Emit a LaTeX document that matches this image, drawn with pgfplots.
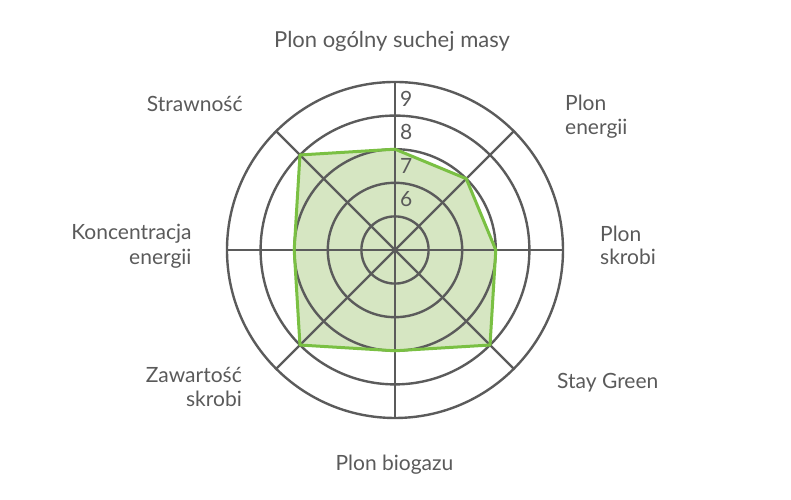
\documentclass[border=0pt]{standalone}
\usepackage{fontspec}
\setmainfont{Lato}
\usepackage{pgfplots}
\usepackage{pgfplotstable}
\pgfplotsset{compat=1.18}

\definecolor{gridgray}{HTML}{5B5B5B}
\definecolor{txtgray}{HTML}{5A5A5A}
\definecolor{linegreen}{HTML}{7AC043}
\definecolor{fillgreen}{HTML}{D6E6C2}

% angle (deg, clockwise from top = 90) and score
\pgfplotstableread{
angle value
90    7
45    7
0     7
-45   8
-90   7
-135  8
180   7
135   8
}\radar

\begin{document}
\begin{tikzpicture}[x=1bp,y=1bp,
  lbl/.style={inner sep=0pt, text=txtgray, font=\fontsize{21bp}{25bp}\selectfont}]
\begin{axis}[
  at={(0,0)}, anchor=origin,
  x=33.6bp, y=33.6bp,
  xmin=-11.756, xmax=11.786, ymin=-7.44, ymax=7.44,
  hide axis, clip=false,
]
\path (axis cs:-11.756,-7.44) rectangle (axis cs:11.786,7.44);

% filled area
\addplot[draw=none, fill=fillgreen] table[
  x expr={(\thisrow{value}-4)*cos(\thisrow{angle})},
  y expr={(\thisrow{value}-4)*sin(\thisrow{angle})}] {\radar} -- cycle;

% rings (5..9) and spokes
\pgfplotsinvokeforeach{1,2,3,4,5}{
  \draw[gridgray, line width=2.4bp] (axis cs:0,0) circle[radius=#1];
}
\pgfplotsinvokeforeach{0,45,90,135,180,225,270,315}{
  \draw[gridgray, line width=2.4bp] (axis cs:0,0) -- (axis cs:{5*cos(#1)},{5*sin(#1)});
}

% outline
\addplot[linegreen, line width=3bp, line join=round] table[
  x expr={(\thisrow{value}-4)*cos(\thisrow{angle})},
  y expr={(\thisrow{value}-4)*sin(\thisrow{angle})}] {\radar} -- cycle;
\end{axis}

% ring values
\node[lbl, anchor=base west] at (5,143.3) {9};
\node[lbl, anchor=base west] at (5,110) {8};
\node[lbl, anchor=base west] at (5,76.7) {7};
\node[lbl, anchor=base west] at (5,43.3) {6};

% category labels
\node[lbl, anchor=base, font=\fontsize{22bp}{26bp}\selectfont] at (-3,202) {Plon ogólny suchej masy};
\node[lbl, anchor=base west] at (170,139.3) {Plon};
\node[lbl, anchor=base west] at (170,115) {energii};
\node[lbl, anchor=base west] at (205,8.3) {Plon};
\node[lbl, anchor=base west] at (205,-15) {skrobi};
\node[lbl, anchor=base west] at (162,-139) {Stay Green};
\node[lbl, anchor=base] at (-0.5,-221) {Plon biogazu};
\node[lbl, anchor=base east] at (-153,-132.7) {Zawartość};
\node[lbl, anchor=base east] at (-153,-156.7) {skrobi};
\node[lbl, anchor=base east] at (-203.3,10) {Koncentracja};
\node[lbl, anchor=base east] at (-203.3,-15) {energii};
\node[lbl, anchor=base east] at (-152.3,138.3) {Strawność};
\end{tikzpicture}
\end{document}
